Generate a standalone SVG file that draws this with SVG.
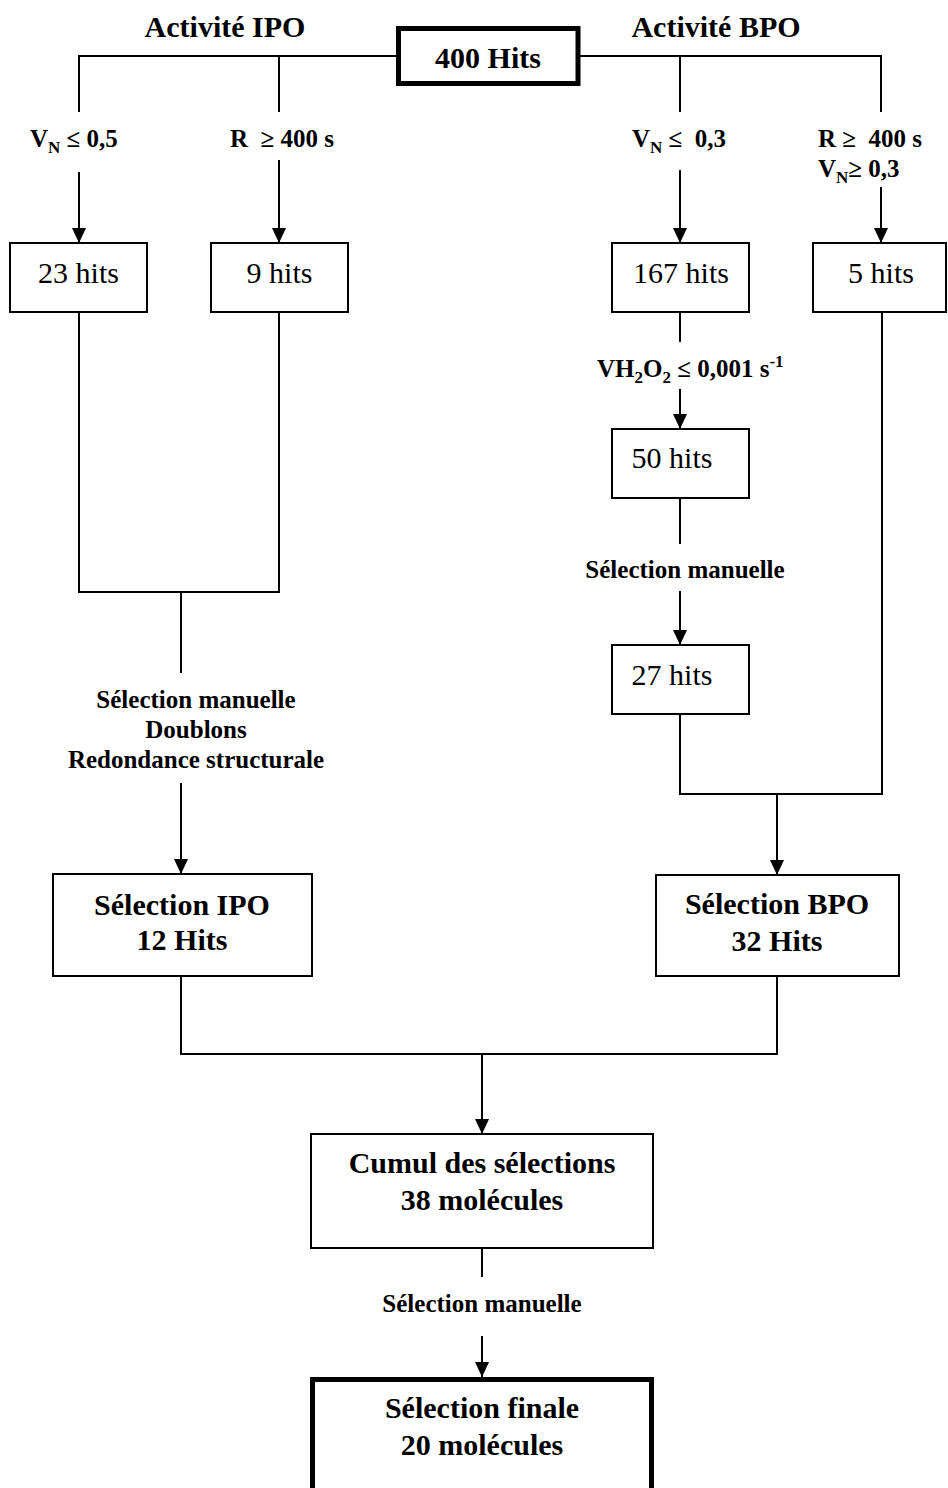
<svg xmlns="http://www.w3.org/2000/svg" width="948" height="1488" viewBox="0 0 948 1488">
<defs>
<style>
.box{fill:#fff;stroke:#000;stroke-width:2}
.thick{fill:#fff;stroke:#000;stroke-width:5}
.ln{fill:none;stroke:#000;stroke-width:2}
.t{font-family:"Liberation Serif","Times New Roman",serif;fill:#000}
.b30{font-size:30px;font-weight:bold}
.r30{font-size:30px}
.b25{font-size:25px;font-weight:bold}
.mid{text-anchor:middle}
</style>
<marker id="arr" viewBox="0 0 15 14" refX="15" refY="7" markerWidth="15" markerHeight="14" markerUnits="userSpaceOnUse" orient="auto">
<path d="M0,0 L15,7 L0,14 z" fill="#000"/>
</marker>
</defs>
<rect width="948" height="1488" fill="#fff"/>

<g id="titles">
<text class="t b30 mid" x="225" y="37">Activité IPO</text>
<text class="t b30 mid" x="716" y="37">Activité BPO</text>
</g>

<g id="connectors">
<!-- top bar -->
<polyline class="ln" points="79,112 79,56 398,56"/>
<line class="ln" x1="279" y1="56" x2="279" y2="112"/>
<polyline class="ln" points="578,56 881,56 881,112"/>
<line class="ln" x1="680" y1="56" x2="680" y2="112"/>
<!-- arrows to first row -->
<line class="ln" x1="79" y1="172" x2="79" y2="243" marker-end="url(#arr)"/>
<line class="ln" x1="279" y1="160" x2="279" y2="243" marker-end="url(#arr)"/>
<line class="ln" x1="680" y1="170" x2="680" y2="243" marker-end="url(#arr)"/>
<line class="ln" x1="881" y1="187" x2="881" y2="243" marker-end="url(#arr)"/>
<!-- IPO merge -->
<polyline class="ln" points="79,312 79,592 279,592 279,312"/>
<line class="ln" x1="181" y1="592" x2="181" y2="673"/>
<line class="ln" x1="181" y1="783" x2="181" y2="874" marker-end="url(#arr)"/>
<!-- BPO chain -->
<line class="ln" x1="680" y1="312" x2="680" y2="342"/>
<line class="ln" x1="680" y1="389" x2="680" y2="429" marker-end="url(#arr)"/>
<line class="ln" x1="680" y1="498" x2="680" y2="544"/>
<line class="ln" x1="680" y1="591" x2="680" y2="645" marker-end="url(#arr)"/>
<polyline class="ln" points="680,714 680,794 882,794 882,312"/>
<line class="ln" x1="777" y1="794" x2="777" y2="875" marker-end="url(#arr)"/>
<!-- bottom merge -->
<polyline class="ln" points="181,976 181,1054 777,1054 777,976"/>
<line class="ln" x1="482" y1="1054" x2="482" y2="1134" marker-end="url(#arr)"/>
<line class="ln" x1="482" y1="1248" x2="482" y2="1277"/>
<line class="ln" x1="482" y1="1336" x2="482" y2="1377" marker-end="url(#arr)"/>
</g>

<g id="labels">
<text class="t b25" x="30" y="147">V<tspan font-size="17" dy="6">N</tspan><tspan dy="-6"> ≤ 0,5</tspan></text>
<text class="t b25" x="230" y="147" xml:space="preserve">R  ≥ 400 s</text>
<text class="t b25" x="632" y="147" xml:space="preserve">V<tspan font-size="17" dy="6">N</tspan><tspan dy="-6"> ≤  0,3</tspan></text>
<text class="t b25" x="818" y="147" xml:space="preserve">R ≥  400 s</text>
<text class="t b25" x="818" y="177">V<tspan font-size="17" dy="6">N</tspan><tspan dy="-6">≥ 0,3</tspan></text>
<text class="t b25" x="597" y="377">VH<tspan font-size="17" dy="6">2</tspan><tspan dy="-6">O</tspan><tspan font-size="17" dy="6">2</tspan><tspan dy="-6"> ≤ 0,001 s</tspan><tspan font-size="17" dy="-10">-1</tspan></text>
<text class="t b25 mid" x="685" y="578">Sélection manuelle</text>
<text class="t b25 mid" x="196" y="708">Sélection manuelle</text>
<text class="t b25 mid" x="196" y="738">Doublons</text>
<text class="t b25 mid" x="196" y="768">Redondance structurale</text>
<text class="t b25 mid" x="482" y="1312">Sélection manuelle</text>
</g>

<g id="n400">
<rect class="thick" x="398.5" y="28.5" width="179.5" height="55"/>
<text class="t b30 mid" x="488" y="68">400 Hits</text>
</g>
<g id="n23">
<rect class="box" x="10" y="243" width="137" height="69"/>
<text class="t r30 mid" x="78.5" y="283">23 hits</text>
</g>
<g id="n9">
<rect class="box" x="211" y="243" width="137" height="69"/>
<text class="t r30 mid" x="279.5" y="283">9 hits</text>
</g>
<g id="n167">
<rect class="box" x="612" y="243" width="137" height="69"/>
<text class="t r30 mid" x="681" y="283">167 hits</text>
</g>
<g id="n5">
<rect class="box" x="813" y="243" width="133" height="69"/>
<text class="t r30 mid" x="881" y="283">5 hits</text>
</g>
<g id="n50">
<rect class="box" x="612" y="429" width="137" height="69"/>
<text class="t r30 mid" x="672" y="468">50 hits</text>
</g>
<g id="n27">
<rect class="box" x="612" y="645" width="137" height="69"/>
<text class="t r30 mid" x="672" y="685">27 hits</text>
</g>
<g id="selIPO">
<rect class="box" x="53" y="874" width="259" height="102"/>
<text class="t b30 mid" x="182" y="915">Sélection IPO</text>
<text class="t b30 mid" x="182" y="950">12 Hits</text>
</g>
<g id="selBPO">
<rect class="box" x="656" y="875" width="243" height="101"/>
<text class="t b30 mid" x="777" y="914">Sélection BPO</text>
<text class="t b30 mid" x="777" y="951">32 Hits</text>
</g>
<g id="cumul">
<rect class="box" x="311" y="1134" width="342" height="114"/>
<text class="t b30 mid" x="482" y="1173">Cumul des sélections</text>
<text class="t b30 mid" x="482" y="1210">38 molécules</text>
</g>
<g id="final">
<rect class="thick" x="312.5" y="1379.5" width="339" height="160"/>
<text class="t b30 mid" x="482" y="1418">Sélection finale</text>
<text class="t b30 mid" x="482" y="1455">20 molécules</text>
</g>
</svg>
